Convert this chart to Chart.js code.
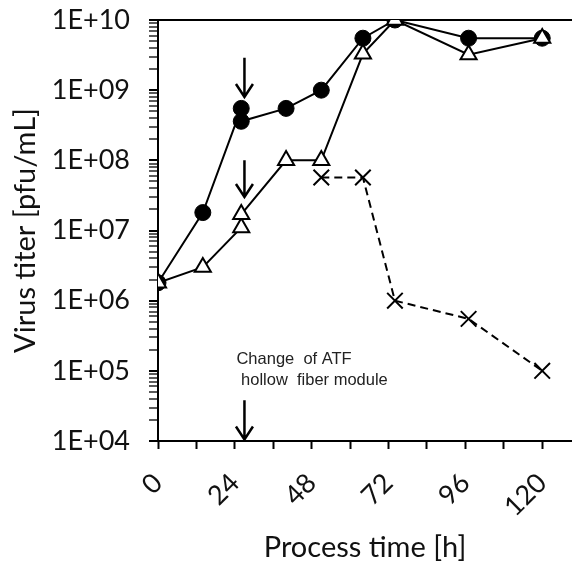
<!DOCTYPE html>
<html>
<head>
<meta charset="utf-8">
<script src="https://cdn.jsdelivr.net/npm/chart.js@4"></script>
<style>
    html, body { margin: 0; padding: 0; background: #fff; }
</style>
</head>
<body>
<canvas id="titerChart" width="572" height="567"></canvas>
<script>
// data (time in h, titer in pfu/mL)
const timeCircle = [0, 14, 26, 26, 40, 51, 64, 74, 97, 120];
const titerCircle = [1.8e6, 1.8e7, 5.5e8, 3.6e8, 5.5e8, 1.0e9, 5.5e9, 1.0e10, 5.5e9, 5.5e9];
const timeTriangle = [0, 14, 26, 26, 40, 51, 64, 74, 97, 120];
const titerTriangle = [1.8e6, 3.0e6, 1.1e7, 1.7e7, 1.0e8, 1.0e8, 3.3e9, 1.0e10, 3.2e9, 5.5e9];
const timeCross = [51, 64, 74, 97, 120];
const titerCross = [5.7e7, 5.7e7, 1.0e6, 5.5e5, 1.0e5];

// axis ticks
const xTicks = [0, 12, 24, 36, 48, 60, 72, 84, 96, 108, 120];
const xLabels = [0, 24, 48, 72, 96, 120];
const yDecades = [1e4, 1e5, 1e6, 1e7, 1e8, 1e9, 1e10];

// arrows (time, tail titer, head titer) and the note
const arrowTime = [27, 27, 27];
const arrowFrom = [2.9e9, 1.0e8, 3.8e4];
const arrowTo = [8.0e8, 3.0e7, 1.05e4];
const noteLines = ['Change  of ATF', ' hollow  fiber module'];
const noteTime = 24.5;
const noteTiter = [1.43e5, 7.2e4];

const toPoints = (xs, ys) => xs.map((x, i) => ({ x: x, y: ys[i] }));

// 1..9 x 10^n for the minor ticks of the log axis
const yTicks = [];
for (let i = 0; i < yDecades.length; i++) {
    for (let m = 1; m <= 9; m++) {
        yTicks.push(m * yDecades[i]);
        if (i === yDecades.length - 1) break;
    }
}
const isDecade = v => Math.abs(Math.log10(v) - Math.round(Math.log10(v))) < 1e-9;

const arrowPlugin = {
    id: 'arrows',
    afterDatasetsDraw(chart) {
        const ctx = chart.ctx;
        const xs = chart.scales.x, ys = chart.scales.y;
        ctx.save();
        ctx.strokeStyle = '#000';
        ctx.lineWidth = 2.5;
        for (let i = 0; i < arrowTime.length; i++) {
            const x = xs.getPixelForValue(arrowTime[i]);
            const y1 = ys.getPixelForValue(arrowFrom[i]);
            const y2 = ys.getPixelForValue(arrowTo[i]);
            ctx.beginPath();
            ctx.moveTo(x, y1);
            ctx.lineTo(x, y2);
            ctx.moveTo(x - 8.5, y2 - 13);
            ctx.lineTo(x, y2);
            ctx.lineTo(x + 8.5, y2 - 13);
            ctx.stroke();
        }
        ctx.fillStyle = '#222';
        ctx.font = '16.5px "Liberation Sans", Arial, sans-serif';
        ctx.textAlign = 'left';
        ctx.textBaseline = 'middle';
        noteLines.forEach((t, i) => {
            ctx.fillText(t, xs.getPixelForValue(noteTime), ys.getPixelForValue(noteTiter[i]));
        });
        ctx.restore();
    }
};

const tickFont = { family: 'Lato, "Open Sans", sans-serif', size: 27 };
const titleFont = { family: 'Lato, "Open Sans", sans-serif', size: 29 };

new Chart(document.getElementById('titerChart'), {
    type: 'scatter',
    data: {
        datasets: [
            {
                label: 'triangle',
                data: toPoints(timeTriangle, titerTriangle),
                showLine: true,
                borderColor: '#000',
                borderWidth: 2,
                pointStyle: 'triangle',
                pointRadius: 9.3,
                pointBackgroundColor: '#fff',
                pointBorderColor: '#000',
                pointBorderWidth: 2
            },
            {
                label: 'circle',
                data: toPoints(timeCircle, titerCircle),
                showLine: true,
                borderColor: '#000',
                borderWidth: 2,
                pointStyle: 'circle',
                pointRadius: 8,
                pointBackgroundColor: '#000',
                pointBorderColor: '#000',
                pointBorderWidth: 1
            },
            {
                label: 'cross',
                data: toPoints(timeCross, titerCross),
                showLine: true,
                borderColor: '#000',
                borderWidth: 2,
                borderDash: [8, 5],
                pointStyle: 'crossRot',
                pointRadius: 11,
                pointBorderColor: '#000',
                pointBorderWidth: 2
            }
        ]
    },
    options: {
        responsive: false,
        animation: false,
        layout: { autoPadding: false, padding: { top: 20, right: 0, left: 0, bottom: 0 } },
        plugins: {
            legend: { display: false },
            tooltip: { enabled: false }
        },
        scales: {
            x: {
                type: 'linear',
                min: 0,
                max: 129.3,
                afterBuildTicks: s => { s.ticks = xTicks.map(v => ({ value: v })); },
                afterFit: s => { s.height = 126; s.paddingLeft = 0; s.paddingRight = 0; },
                border: { display: true, color: '#000', width: 2 },
                grid: { drawOnChartArea: false, tickColor: '#000', tickLength: 8, tickWidth: 2 },
                ticks: {
                    autoSkip: false,
                    minRotation: 45,
                    maxRotation: 45,
                    padding: 18,
                    color: '#111',
                    font: tickFont,
                    callback: v => xLabels.includes(v) ? String(v) : ''
                },
                title: {
                    display: true,
                    text: 'Process time [h]',
                    color: '#111',
                    font: titleFont,
                    padding: { top: 0, bottom: 2 }
                }
            },
            y: {
                type: 'logarithmic',
                min: 1e4,
                max: 1e10,
                afterBuildTicks: s => { s.ticks = yTicks.map(v => ({ value: v })); },
                afterFit: s => { s.width = 158; s.paddingTop = 0; s.paddingBottom = 0; },
                border: { display: true, color: '#000', width: 2 },
                grid: {
                    drawOnChartArea: true,
                    color: c => (c.tick && c.tick.value === 1e10) ? '#000' : 'rgba(0,0,0,0)',
                    lineWidth: 2,
                    tickColor: '#000',
                    tickLength: 9,
                    tickWidth: c => (c.tick && isDecade(c.tick.value)) ? 2 : 1.3
                },
                ticks: {
                    autoSkip: false,
                    padding: 19,
                    color: '#111',
                    font: tickFont,
                    callback: v => isDecade(v) ? '1E+' + String(Math.round(Math.log10(v))).padStart(2, '0') : ''
                },
                title: {
                    display: true,
                    text: 'Virus titer [pfu/mL]',
                    color: '#111',
                    font: titleFont,
                    padding: { top: 8, bottom: 0 }
                }
            }
        }
    },
    plugins: [arrowPlugin]
});
</script>
</body>
</html>
